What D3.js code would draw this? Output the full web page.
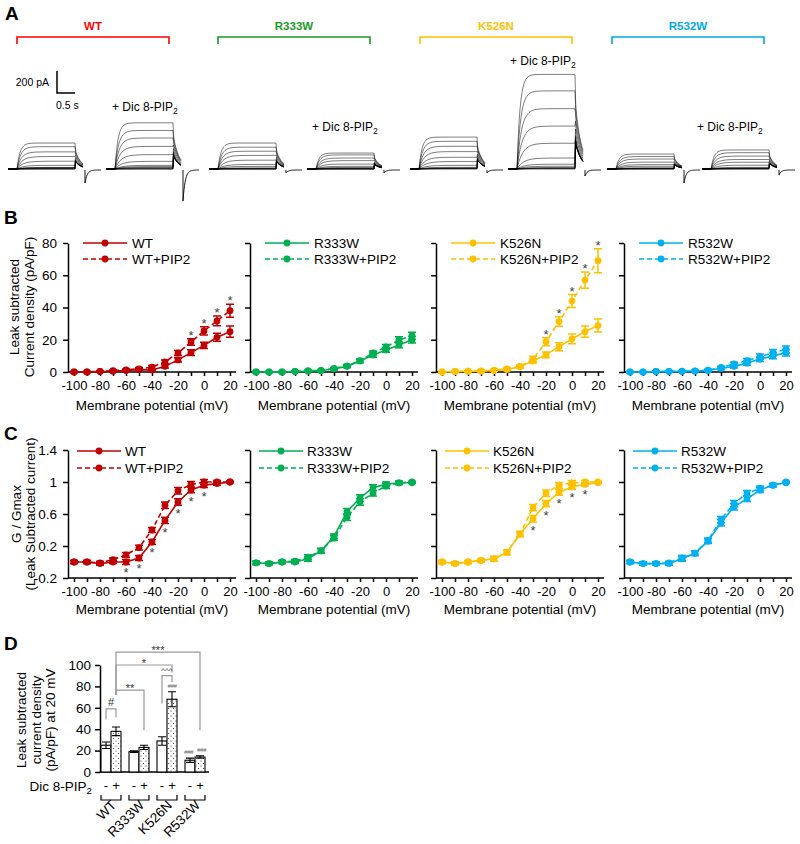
<!DOCTYPE html>
<html><head><meta charset="utf-8">
<script src="https://cdn.jsdelivr.net/npm/d3@7/dist/d3.min.js"></script>
<style>html,body{margin:0;padding:0;background:#fff}</style>
</head><body>
<svg id="fig" width="800" height="844" xmlns="http://www.w3.org/2000/svg"></svg>
<script>
// ================= DATA =================
const mutants = ["WT", "R333W", "K526N", "R532W"];
const voltages = [-100, -90, -80, -70, -60, -50, -40, -30, -20, -10, 0, 10, 20];
const xTickLabels = [-100, -80, -60, -40, -20, 0, 20];
const yTicksB = [0, 20, 40, 60, 80];
const yTicksC = [-0.2, 0.2, 0.6, 1, 1.4];
const yTicksD = [0, 20, 40, 60, 80, 100];
const seriesColors = ["#c00000", "#00b050", "#ffc000", "#00b0f0"];
const titleColors = ["#ff0000", "#1a9a2a", "#ffc000", "#00a8e8"];

// Panel B: leak subtracted current density (pA/pF)
const densWT      = [0, 0, 0.3, 0.5, 1, 1.5, 1.3, 3.5, 7.5, 12, 16.5, 21.5, 25];
const densWTpip   = [0, 0, 0.4, 0.8, 1.3, 2, 3, 6.3, 11.8, 18.6, 25.5, 31.7, 38];
const errWT       = [0.3, 0.3, 0.3, 0.4, 0.5, 0.6, 0.7, 1, 1.3, 1.8, 2, 2.5, 3.5];
const errWTpip    = [0.3, 0.3, 0.4, 0.5, 0.6, 0.8, 1, 1.2, 1.5, 2, 2.5, 3, 4];
const densR333W    = [0, 0, 0, 0.3, 0.5, 0.8, 2, 3.5, 6.8, 10.5, 13.7, 16.8, 20];
const densR333Wpip = [0, 0, 0, 0.4, 0.8, 1, 2.2, 3.8, 7, 11.8, 15.5, 19.9, 22.5];
const errR333W     = [0.3, 0.3, 0.3, 0.3, 0.4, 0.5, 0.6, 0.8, 1, 1.3, 1.5, 1.8, 2];
const errR333Wpip  = [0.3, 0.3, 0.3, 0.3, 0.4, 0.5, 0.6, 0.8, 1, 1.3, 1.6, 1.9, 2.2];
const densK526N    = [0, 0.3, 0.5, 0.5, 1, 1.5, 3.3, 6.8, 10.6, 15.7, 20.5, 25, 28.8];
const densK526Npip = [0, 0.3, 0.5, 0.7, 1, 2, 3.5, 8, 18.8, 31.3, 44, 57, 69];
const errK526N     = [0.3, 0.3, 0.3, 0.4, 0.5, 0.6, 0.8, 1.2, 1.8, 2.5, 3, 3.5, 4];
const errK526Npip  = [0.3, 0.3, 0.3, 0.4, 0.5, 0.7, 1, 1.8, 2.5, 3, 4, 5, 7.5];
const densR532W    = [0, 0, 0.3, 0.3, 0.4, 0.5, 1, 2.2, 3.5, 5.5, 8, 10, 12];
const densR532Wpip = [0, 0, 0.3, 0.4, 0.5, 0.7, 1.2, 2.8, 5, 7, 9.5, 12, 14];
const errR532W     = [0.3, 0.3, 0.3, 0.3, 0.3, 0.4, 0.5, 0.8, 1, 1.3, 1.5, 1.8, 2];
const errR532Wpip  = [0.3, 0.3, 0.3, 0.3, 0.3, 0.4, 0.5, 0.8, 1, 1.3, 1.6, 1.9, 2.2];
const starsB = [[-10, 0, 10, 20], [], [-20, -10, 0, 10, 20], []];

// Panel C: G / Gmax
const gWT       = [0, 0, -0.02, 0, 0, 0.05, 0.25, 0.52, 0.75, 0.9, 0.96, 0.98, 1];
const gWTpip    = [0, 0, -0.01, 0.03, 0.09, 0.18, 0.4, 0.71, 0.89, 0.97, 1, 1, 1];
const gR333W    = [-0.01, -0.02, 0, 0, 0.04, 0.14, 0.32, 0.63, 0.8, 0.93, 0.97, 0.99, 0.99];
const gR333Wpip = [-0.01, -0.02, 0, 0.01, 0.06, 0.14, 0.3, 0.56, 0.75, 0.86, 0.95, 0.99, 1];
const gK526N    = [0, -0.02, 0, 0.02, 0.04, 0.12, 0.35, 0.54, 0.73, 0.87, 0.94, 0.97, 0.99];
const gK526Npip = [0, -0.02, 0, 0.02, 0.04, 0.12, 0.35, 0.68, 0.86, 0.96, 0.99, 1, 1];
const gR532W    = [0, -0.02, -0.02, -0.02, 0.04, 0.11, 0.26, 0.49, 0.69, 0.79, 0.9, 0.96, 0.99];
const gR532Wpip = [0, -0.02, -0.02, -0.01, 0.05, 0.11, 0.27, 0.53, 0.73, 0.86, 0.92, 0.96, 1];
const gErr      = [0.02, 0.02, 0.02, 0.02, 0.03, 0.03, 0.03, 0.04, 0.04, 0.035, 0.03, 0.02, 0.01];
const starsC = [[-60, -50, -40, -30, -20, -10, 0], [], [-30, -20, -10, 0, 10], []];

// Panel D: current density at 20 mV
const dCtrl = [25, 19, 29, 11];
const dCtrlErr = [3, 0.8, 4, 2];
const dPip = [38, 23, 68, 14];
const dPipErr = [4, 2, 7, 1.2];

// Panel A: peak amplitude of the largest sweep (pA)
const traceCtrlMax = [236, 236, 290, 136];
const tracePipMax = [420, 145, 860, 173];

// ================= DRAWING =================
const FONT = "Liberation Sans, Arial, Helvetica, sans-serif";
const svg = d3.select("#fig");
svg.append("rect").attr("width", 800).attr("height", 844).attr("fill", "#fff");
const defs = svg.append("defs");
const pat = defs.append("pattern").attr("id", "dots").attr("width", 5).attr("height", 5)
  .attr("patternUnits", "userSpaceOnUse");
pat.append("rect").attr("width", 5).attr("height", 5).attr("fill", "#fff");
pat.append("circle").attr("cx", 1).attr("cy", 1).attr("r", 0.6).attr("fill", "#333");
pat.append("circle").attr("cx", 3.5).attr("cy", 3.5).attr("r", 0.6).attr("fill", "#333");

const densCtrl = [densWT, densR333W, densK526N, densR532W];
const densPip = [densWTpip, densR333Wpip, densK526Npip, densR532Wpip];
const errCtrl = [errWT, errR333W, errK526N, errR532W];
const errPip = [errWTpip, errR333Wpip, errK526Npip, errR532Wpip];
const gCtrl = [gWT, gR333W, gK526N, gR532W];
const gPip = [gWTpip, gR333Wpip, gK526Npip, gR532Wpip];

function txt(g, x, y, s, size, opts = {}) {
  return g.append("text").attr("x", x).attr("y", y).text(s)
    .attr("font-family", FONT).attr("font-size", size)
    .attr("font-weight", opts.bold ? "bold" : null)
    .attr("fill", opts.fill || "#000")
    .attr("text-anchor", opts.anchor || "start");
}
function pipLabel(g, x, y, size, anchor) {
  const t = g.append("text").attr("x", x).attr("y", y).attr("font-family", FONT)
    .attr("font-size", size).attr("fill", "#000").attr("text-anchor", anchor || "start");
  t.append("tspan").text(anchor === "end" ? "Dic 8-PIP" : "+ Dic 8-PIP");
  t.append("tspan").text("2").attr("font-size", size * 0.72).attr("dy", 3);
  return t;
}
function styleAxis(g, size) {
  g.selectAll("path, line").attr("stroke", "#000").attr("stroke-width", 1.5);
  g.selectAll("text").attr("font-family", FONT).attr("font-size", size).attr("fill", "#000");
}

// Panel letters
[["A", 5, 20], ["B", 4, 224], ["C", 4, 440], ["D", 4, 650]].forEach(([s, x, y]) =>
  txt(svg, x, y, s, 19, { bold: true }));

// ---------- Panel A ----------
const gA = svg.append("g");
const ampScale = d3.scaleLinear().domain([0, 200]).range([0, 22]);   // pA -> px
const timeScale = d3.scaleLinear().domain([0, 0.5]).range([0, 18]);  // s -> px
const bracketA = [[17, 169], [218, 370], [420, 572], [612, 764]];
bracketA.forEach(([a, b], i) => {
  gA.append("path").attr("d", `M${a},44V37H${b}V44`).attr("fill", "none")
    .attr("stroke", titleColors[i]).attr("stroke-width", 1.6);
  txt(gA, (a + b) / 2, 30, mutants[i], 11.5, { bold: true, fill: titleColors[i], anchor: "middle" });
});
// scale bar
const sbX = 57, sbY = 93;
gA.append("path").attr("d", `M${sbX},${sbY - ampScale(200)}V${sbY}H${sbX + timeScale(0.5)}`)
  .attr("fill", "none").attr("stroke", "#000").attr("stroke-width", 1.5);
txt(gA, 49, 86, "200 pA", 10.5, { anchor: "end" });
txt(gA, 56, 109, "0.5 s", 10.5);
// PIP2 labels
[[112, 111], [312, 131], [510, 65], [697, 131]].forEach(([x, y]) => pipLabel(gA, x, y, 12));

// traces
const blockX0 = [8, 106, 209, 307, 410, 508, 607, 702];
const dips = [13, 31, 3, 3, 3, 6, 13, 5];
const base = 169;
blockX0.forEach((x0, j) => {
  const i = Math.floor(j / 2), pip = j % 2 === 1;
  const dens = pip ? densPip[i] : densCtrl[i];
  const maxA = ampScale(pip ? tracePipMax[i] : traceCtrlMax[i]);
  const pre = 9, pulse = 58, tail = 8;
  const tg = gA.append("g");
  voltages.forEach((v, k) => {
    const A = maxA * Math.max(0, dens[k]) / dens[dens.length - 1];
    const tau = 3 + 0.7 * (12 - k);
    const pts = [[x0, base], [x0 + pre, base]];
    for (let t = 0; t <= pulse; t += 1) pts.push([x0 + pre + t, base - A * (1 - Math.exp(-t / tau))]);
    const endA = A * (1 - Math.exp(-pulse / tau));
    const tailStart = 0.45 * endA + 0.3 * maxA;
    pts.push([x0 + pre + pulse + 0.5, base - tailStart]);
    for (let t = 1; t <= tail; t += 1) pts.push([x0 + pre + pulse + t, base - tailStart * Math.exp(-t / 6)]);
    tg.append("path").attr("d", d3.line()(pts)).attr("fill", "none")
      .attr("stroke", "#000").attr("stroke-width", 0.6).attr("stroke-opacity", 0.85);
  });
  // post-pulse segment
  const xs = x0 + pre + pulse + tail + 2;
  const post = [[xs, base + 1], [xs, base + 1 + dips[j]]];
  for (let t = 0.5; t <= 16; t += 0.5) post.push([xs + t, base + 1 + dips[j] * Math.exp(-t / 2.2)]);
  tg.append("path").attr("d", d3.line()(post)).attr("fill", "none").attr("stroke", "#000").attr("stroke-width", 0.9);
});

// ---------- Panels B & C ----------
const axisX = [68, 250, 436, 624];

function ivPanel(o) {
  mutants.forEach((m, i) => {
    const ax = axisX[i];
    const x = d3.scaleLinear().domain([-100, 20]).range([ax + 6, ax + 162]);
    const y = d3.scaleLinear().domain(o.yDomain).range(o.yRange);
    const g = svg.append("g");
    const yg = g.append("g").attr("transform", `translate(${ax},0)`)
      .call(d3.axisLeft(y).tickValues(o.ticks).tickSize(5).tickSizeOuter(0).tickPadding(6)
        .tickFormat(i === 0 ? o.fmt : () => ""));
    styleAxis(yg, 13.5);
    const xg = g.append("g").attr("transform", `translate(0,${o.yRange[0]})`)
      .call(d3.axisBottom(x).tickValues(voltages).tickSize(4).tickPadding(5)
        .tickFormat(d => xTickLabels.includes(d) ? String(d) : ""));
    xg.select(".domain").remove();
    styleAxis(xg, 13);
    g.append("line").attr("x1", ax).attr("x2", ax + 168).attr("y1", o.yRange[0]).attr("y2", o.yRange[0])
      .attr("stroke", "#000").attr("stroke-width", 1.5);
    txt(g, ax + 84, o.titleY, "Membrane potential (mV)", 13.5, { anchor: "middle" });

    const col = seriesColors[i];
    const sets = [
      { vals: o.pip[i], err: o.pipErr[i], dash: "5,3" },
      { vals: o.ctrl[i], err: o.ctrlErr[i], dash: null }
    ];
    sets.forEach(s => {
      const line = d3.line().x((d, k) => x(voltages[k])).y(d => y(d));
      g.append("path").attr("d", line(s.vals)).attr("fill", "none").attr("stroke", col)
        .attr("stroke-width", 1.6).attr("stroke-dasharray", s.dash);
      s.vals.forEach((v, k) => {
        const cx = x(voltages[k]), y1 = y(v - s.err[k]), y2 = y(v + s.err[k]);
        g.append("path").attr("d", `M${cx},${y1}V${y2}M${cx - 4},${y1}H${cx + 4}M${cx - 4},${y2}H${cx + 4}`)
          .attr("stroke", col).attr("stroke-width", 1.5).attr("fill", "none");
        g.append("circle").attr("cx", cx).attr("cy", y(v)).attr("r", 3.4).attr("fill", col);
      });
    });
    // stars
    o.stars[i].forEach(v => {
      const k = voltages.indexOf(v);
      const yy = o.starAbove ? y(o.pip[i][k] + o.pipErr[i][k]) + 1 : y(o.ctrl[i][k] - o.ctrlErr[i][k]) + 13;
      txt(g, x(v), yy, "*", 13, { anchor: "middle", fill: "#404040" });
    });
    // legend
    const L = o.leg;
    [[o.legRows[0], null, m], [o.legRows[1], "5,3", m + "+PIP2"]].forEach(([ry, dash, lab]) => {
      g.append("line").attr("x1", ax + L[0]).attr("x2", ax + L[1]).attr("y1", ry).attr("y2", ry)
        .attr("stroke", col).attr("stroke-width", 1.6).attr("stroke-dasharray", dash);
      g.append("circle").attr("cx", ax + (L[0] + L[1]) / 2).attr("cy", ry).attr("r", 3.4).attr("fill", col);
      txt(g, ax + L[2], ry + 5, lab, 13.5);
    });
  });
  // y label
  o.ylab.forEach(([s, xx]) => {
    svg.append("text").attr("transform", `translate(${xx},${o.ylabCY}) rotate(-90)`)
      .attr("text-anchor", "middle").attr("font-family", FONT).attr("font-size", 13.5).text(s);
  });
}

ivPanel({
  yDomain: [0, 80], yRange: [372, 243], ticks: yTicksB, fmt: d => String(d),
  ctrl: densCtrl, pip: densPip, ctrlErr: errCtrl, pipErr: errPip,
  stars: starsB, starAbove: true, titleY: 410, legRows: [243, 259], leg: [15, 59, 64],
  ylab: [["Leak subtracted", 19], ["Current density (pA/pF)", 34]], ylabCY: 307
});
const gErrAll = [gErr, gErr, gErr, gErr];
ivPanel({
  yDomain: [-0.2, 1.4], yRange: [578, 450], ticks: yTicksC, fmt: d => String(+d.toFixed(1)),
  ctrl: gCtrl, pip: gPip, ctrlErr: gErrAll, pipErr: gErrAll,
  stars: starsC, starAbove: false, titleY: 614, legRows: [451, 468], leg: [9, 53, 57],
  ylab: [["G / Gmax", 21], ["(Leak Subtracted current)", 35]], ylabCY: 514
});

// ---------- Panel D ----------
const gD = svg.append("g");
const band = d3.scaleBand().domain(mutants).range([97, 209]);
const yD = d3.scaleLinear().domain([0, 100]).range([772, 665]);
const bx = (i, pip) => band(mutants[i]) + band.bandwidth() / 2 + (pip ? 5 : -5);
const yDax = gD.append("g").attr("transform", "translate(100,0)")
  .call(d3.axisLeft(yD).tickValues(yTicksD).tickSize(5).tickSizeOuter(0).tickPadding(4));
styleAxis(yDax, 13.5);
gD.append("line").attr("x1", 100).attr("x2", 209).attr("y1", 772).attr("y2", 772)
  .attr("stroke", "#000").attr("stroke-width", 1.5);

mutants.forEach((m, i) => {
  [[dCtrl, dCtrlErr, false], [dPip, dPipErr, true]].forEach(([vals, errs, pip]) => {
    const cx = bx(i, pip);
    gD.append("rect").attr("x", cx - 5).attr("width", 10).attr("y", yD(vals[i]))
      .attr("height", yD(0) - yD(vals[i])).attr("fill", pip ? "url(#dots)" : "#fff")
      .attr("stroke", "#000").attr("stroke-width", 1.1);
    const y1 = yD(vals[i] - errs[i]), y2 = yD(vals[i] + errs[i]);
    gD.append("path").attr("d", `M${cx},${y1}V${y2}M${cx - 4},${y1}H${cx + 4}M${cx - 4},${y2}H${cx + 4}`)
      .attr("stroke", "#000").attr("stroke-width", 1.1).attr("fill", "none");
    txt(gD, cx, 790, pip ? "+" : "-", 13, { anchor: "middle" });
  });
  const c = band(m) + band.bandwidth() / 2;
  gD.append("path").attr("d", `M${c - 10},795V800H${c + 10}V795`).attr("fill", "none")
    .attr("stroke", "#000").attr("stroke-width", 1.2);
  gD.append("text").attr("transform", `translate(${c + 6},806) rotate(-45)`).attr("text-anchor", "end")
    .attr("font-family", FONT).attr("font-size", 13.5).text(m);
});
pipLabel(gD, 92, 791, 13.5, "end");

// significance annotations (heights in data units)
const sig = [
  { a: [0, 1], b: [3, 1], h: 112, la: 72, lb: 39, t: "***" },
  { a: [0, 1], b: [2, 1], h: 100, la: 72, lb: 93, t: "*" },
  { a: [2, 0], b: [2, 1], h: 90, la: 64, lb: 84, t: "^^^" },
  { a: [0, 1], b: [1, 1], h: 76.5, la: 72, lb: 39, t: "**" },
  { a: [0, 0], b: [0, 1], h: 59, la: 49, lb: 51, t: "#" }
];
sig.forEach(s => {
  const xa = bx(...s.a), xb = bx(...s.b);
  gD.append("path").attr("d", `M${xa},${yD(s.la)}V${yD(s.h)}H${xb}V${yD(s.lb)}`)
    .attr("fill", "none").attr("stroke", "#999").attr("stroke-width", 1.2);
  txt(gD, (xa + xb) / 2, yD(s.h) - (s.t.includes("*") ? -2 : 3), s.t, s.t === "^^^" ? 8 : 11,
    { anchor: "middle", fill: "#333" });
});
[[2, 1, dPip, dPipErr, 0], [3, 0, dCtrl, dCtrlErr, -1.5], [3, 1, dPip, dPipErr, 1.5]].forEach(([i, p, vals, errs, dx]) => {
  const t = txt(gD, bx(i, p) + dx, yD(vals[i] + errs[i]) - 4, "###", 6, { anchor: "middle", fill: "#666" });
  t.attr("font-style", "italic").attr("letter-spacing", -0.4);
});

// D y label
[["Leak subtracted", 26], ["current density", 41], ["(pA/pF) at 20 mV", 55]].forEach(([s, xx]) => {
  svg.append("text").attr("transform", `translate(${xx},720) rotate(-90)`)
    .attr("text-anchor", "middle").attr("font-family", FONT).attr("font-size", 13.5).text(s);
});
</script>
</body></html>
